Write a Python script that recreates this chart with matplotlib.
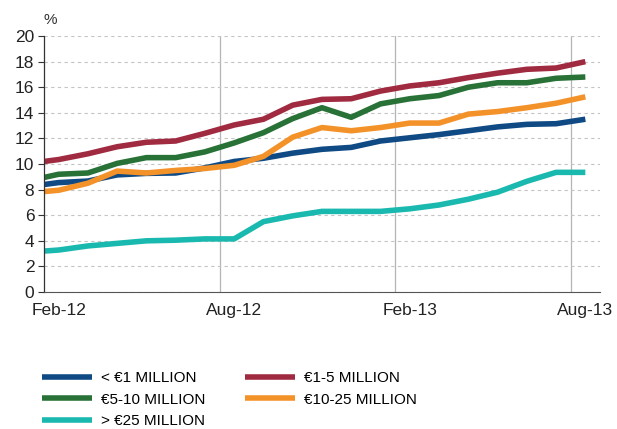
import matplotlib.pyplot as plt

# months after Feb-12 (first point sits on the axis, the rest mid-month)
months = [0, 0.5, 1.5, 2.5, 3.5, 4.5, 5.5, 6.5, 7.5, 8.5,
          9.5, 10.5, 11.5, 12.5, 13.5, 14.5, 15.5, 16.5, 17.5, 18.5]

lt_1m = [8.4, 8.55, 8.67, 9.15, 9.27, 9.3, 9.7, 10.2, 10.45, 10.85,
         11.15, 11.3, 11.8, 12.05, 12.3, 12.6, 12.9, 13.1, 13.15, 13.5]
m1_5 = [10.2, 10.35, 10.8, 11.35, 11.7, 11.8, 12.4, 13.05, 13.5, 14.6,
        15.05, 15.1, 15.7, 16.1, 16.35, 16.75, 17.1, 17.4, 17.5, 18.0]
m5_10 = [8.95, 9.2, 9.3, 10.05, 10.5, 10.5, 10.95, 11.65, 12.45, 13.55,
         14.4, 13.65, 14.7, 15.1, 15.35, 16.0, 16.35, 16.35, 16.7, 16.8]
m10_25 = [7.85, 7.95, 8.5, 9.45, 9.3, 9.5, 9.65, 9.9, 10.6, 12.1,
          12.85, 12.6, 12.85, 13.2, 13.2, 13.9, 14.1, 14.4, 14.75, 15.25]
gt_25m = [3.2, 3.28, 3.6, 3.8, 4.0, 4.05, 4.15, 4.15, 5.5, 5.95,
          6.3, 6.3, 6.3, 6.5, 6.8, 7.25, 7.8, 8.65, 9.35, 9.35]

tick_pos = [0, 6, 12, 18]
tick_labels = ["Feb-12", "Aug-12", "Feb-13", "Aug-13"]

plt.rcParams["font.family"] = ["Liberation Sans", "DejaVu Sans"]

fig = plt.figure(figsize=(6.17, 4.29), dpi=100)
ax = fig.add_axes([0.0713, 0.3193, 0.9011, 0.5967])

lw = 4.0
l_blue, = ax.plot(months, lt_1m, color="#0f4a84", lw=lw, solid_capstyle="butt")
l_red, = ax.plot(months, m1_5, color="#a02b40", lw=lw, solid_capstyle="butt")
l_green, = ax.plot(months, m5_10, color="#297237", lw=lw, solid_capstyle="butt")
l_orange, = ax.plot(months, m10_25, color="#f4922a", lw=lw, solid_capstyle="butt")
l_teal, = ax.plot(months, gt_25m, color="#1ab9af", lw=lw, solid_capstyle="butt")

ax.set_xlim(0, 19)
ax.set_ylim(0, 20)
ax.set_yticks(range(0, 21, 2))
ax.tick_params(axis="y", labelsize=12.5, length=4, color="#333333", pad=3,
               labelcolor="#222222")

# vertical separators at the half-year marks, labels sit half a month to the right
ax.set_xticks(tick_pos)
ax.set_xticklabels([])
ax.tick_params(axis="x", which="major", length=0)
ax.set_xticks([p + 0.5 for p in tick_pos], minor=True)
ax.set_xticklabels(tick_labels, minor=True)
ax.tick_params(axis="x", which="minor", length=0, labelsize=12.5, pad=8,
               labelcolor="#222222")
for p in tick_pos[1:]:
    ax.axvline(p, color="#b5b5b5", lw=0.9, zorder=0)

ax.grid(axis="y", linestyle=(0, (3, 3)), color="#c4c4c4", lw=0.8)
ax.set_axisbelow(True)
for s in ["top", "right"]:
    ax.spines[s].set_visible(False)
ax.spines["left"].set_color("#333333")
ax.spines["bottom"].set_color("#555555")
ax.spines["left"].set_linewidth(0.9)
ax.spines["bottom"].set_linewidth(0.8)

ax.text(0, 1.035, "%", transform=ax.transAxes, fontsize=11, color="#333333",
        ha="left", va="bottom")

# legend: two columns placed separately so the second column starts where it should
leg_kw = dict(loc="upper left", frameon=False, handlelength=3.3, handletextpad=0.55,
              labelspacing=0.5, borderaxespad=0, borderpad=0,
              prop={"size": 11})
leg1 = fig.legend([l_blue, l_green, l_teal],
                  ["< €1 MILLION", "€5-10 MILLION", "> €25 MILLION"],
                  bbox_to_anchor=(0.068, 0.135), **leg_kw)
leg2 = fig.legend([l_red, l_orange],
                  ["€1-5 MILLION", "€10-25 MILLION"],
                  bbox_to_anchor=(0.397, 0.135), **leg_kw)

fig.savefig("out.png", dpi=100)
